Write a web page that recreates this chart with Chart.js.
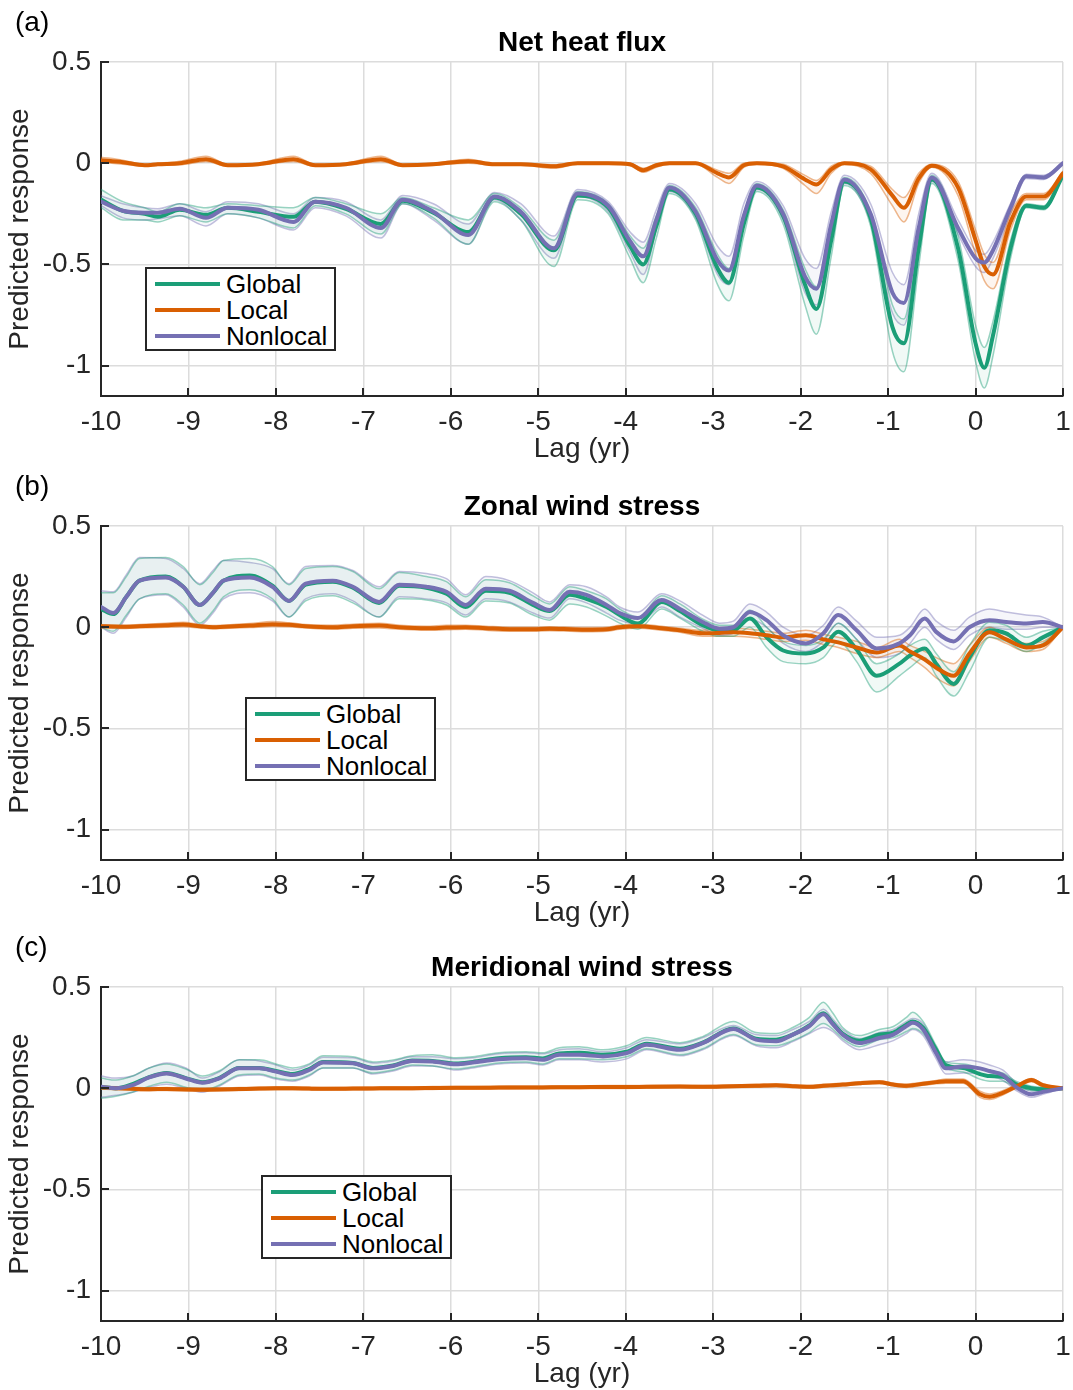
<!DOCTYPE html>
<html>
<head>
<meta charset="utf-8">
<script src="https://cdn.jsdelivr.net/npm/chart.js@4.4.1/dist/chart.umd.min.js"></script>
<style>
  body { margin: 0; background: #fff; width: 1073px; height: 1390px; position: relative; overflow: hidden;
         font-family: "Liberation Sans", Arial, Helvetica, sans-serif; color: #262626; }
  .panel { position: absolute; left: 0; width: 1073px; height: 463px; }
  .panel canvas { position: absolute; left: 0; top: 0; }
  .tag { position: absolute; left: 15px; top: 8px; font-size: 28px; line-height: 28px; color: #000; }
  .title { position: absolute; left: 101px; width: 962px; top: 28px; text-align: center;
           font-weight: bold; font-size: 28px; line-height: 28px; color: #000; }
  .legend { position: absolute; box-sizing: border-box; width: 191px; height: 84px; border: 2px solid #262626;
            background: #fff; padding-top: 2px; }
  .legend .row { height: 26px; display: flex; align-items: center; font-size: 26px; line-height: 26px; color: #000; }
  .legend .swatch { display: inline-block; width: 65px; height: 4px; margin-left: 8px; margin-right: 6px; }
</style>
</head>
<body>

<div class="panel" id="panelA" style="top:0px"><canvas id="chartA" width="1073" height="463"></canvas></div>
<div class="panel" id="panelB" style="top:464px"><canvas id="chartB" width="1073" height="463"></canvas></div>
<div class="panel" id="panelC" style="top:925px"><canvas id="chartC" width="1073" height="463"></canvas></div>

<script>
// Series and ticks
const seriesNames = ['Global', 'Local', 'Nonlocal'];
const seriesColors = ['#1b9e77', '#d95f02', '#7570b3'];
const xTicks = [-10, -9, -8, -7, -6, -5, -4, -3, -2, -1, 0, 1];
const xTickLabels = ['-10', '-9', '-8', '-7', '-6', '-5', '-4', '-3', '-2', '-1', '0', '1'];
const yTicks = [-1, -0.5, 0, 0.5];
const yTickLabels = ['-1', '-0.5', '0', '0.5'];

// (a) Net heat flux
const aLag = [-10, -9.75, -9.5, -9.35, -9.1, -8.8, -8.55, -8.2, -7.8, -7.55,
  -7.2, -6.8, -6.55, -6.2, -5.8, -5.5, -5.2, -4.82, -4.55, -4.2,
  -3.95, -3.8, -3.65, -3.5, -3.2, -2.95, -2.82, -2.65, -2.5, -2.2,
  -1.95, -1.82, -1.65, -1.5, -1.2, -0.95, -0.82, -0.65, -0.5, -0.2,
  0, 0.1, 0.2, 0.4, 0.58, 0.78, 1];
const aGlobal = [-0.18, -0.235, -0.25, -0.265, -0.23, -0.255, -0.22, -0.24, -0.265, -0.19,
  -0.225, -0.30, -0.185, -0.245, -0.34, -0.17, -0.25, -0.43, -0.16, -0.22,
  -0.41, -0.50, -0.31, -0.13, -0.25, -0.52, -0.59, -0.30, -0.12, -0.26,
  -0.60, -0.72, -0.38, -0.09, -0.27, -0.81, -0.89, -0.42, -0.08, -0.42,
  -0.89, -1.01, -0.85, -0.42, -0.21, -0.22, -0.06];
const aGlobalHi = [-0.13, -0.19, -0.22, -0.24, -0.2, -0.22, -0.2, -0.21, -0.22, -0.17,
  -0.2, -0.25, -0.17, -0.22, -0.28, -0.15, -0.22, -0.38, -0.14, -0.2,
  -0.36, -0.42, -0.26, -0.11, -0.22, -0.45, -0.52, -0.25, -0.1, -0.23,
  -0.52, -0.61, -0.3, -0.07, -0.24, -0.7, -0.77, -0.35, -0.06, -0.36,
  -0.8, -0.91, -0.78, -0.38, -0.2, -0.21, -0.05];
const aGlobalLo = [-0.22, -0.28, -0.28, -0.29, -0.26, -0.29, -0.25, -0.27, -0.32, -0.21,
  -0.25, -0.35, -0.2, -0.27, -0.4, -0.19, -0.28, -0.51, -0.18, -0.25,
  -0.47, -0.59, -0.37, -0.15, -0.28, -0.6, -0.68, -0.36, -0.14, -0.3,
  -0.7, -0.845, -0.46, -0.11, -0.31, -0.93, -1.03, -0.51, -0.1, -0.48,
  -0.98, -1.11, -0.95, -0.47, -0.22, -0.23, -0.065];
const aLocal = [0.015, 0.005, -0.01, -0.005, 0.0, 0.02, -0.01, -0.005, 0.02, -0.01,
  -0.005, 0.02, -0.01, -0.005, 0.01, -0.005, -0.005, -0.015, 0.0, 0.0,
  -0.005, -0.035, -0.01, 0.0, 0.0, -0.05, -0.07, -0.01, 0.0, -0.016,
  -0.08, -0.105, -0.03, 0.0, -0.03, -0.16, -0.22, -0.075, -0.013, -0.12,
  -0.38, -0.51, -0.55, -0.29, -0.165, -0.165, -0.05];
const aLocalHi = [0.03, 0.015, -0.005, 0.0, 0.01, 0.035, -0.005, 0.0, 0.035, -0.005,
  0.0, 0.035, -0.005, 0.0, 0.02, 0.0, 0.0, -0.008, 0.005, 0.005,
  0.0, -0.025, -0.003, 0.005, 0.005, -0.035, -0.05, 0.0, 0.005, -0.005,
  -0.06, -0.085, -0.015, 0.005, -0.015, -0.13, -0.17, -0.05, -0.005, -0.09,
  -0.33, -0.45, -0.49, -0.25, -0.15, -0.15, -0.04];
const aLocalLo = [0.005, -0.005, -0.015, -0.01, -0.008, 0.008, -0.015, -0.01, 0.008, -0.015,
  -0.01, 0.008, -0.015, -0.01, 0.0, -0.01, -0.01, -0.025, -0.005, -0.005,
  -0.012, -0.045, -0.02, -0.005, -0.005, -0.07, -0.1, -0.02, -0.005, -0.025,
  -0.11, -0.15, -0.05, -0.005, -0.05, -0.21, -0.29, -0.1, -0.02, -0.16,
  -0.45, -0.58, -0.62, -0.33, -0.18, -0.18, -0.06];
const aNonlocal = [-0.19, -0.235, -0.245, -0.245, -0.225, -0.27, -0.22, -0.23, -0.29, -0.19,
  -0.22, -0.32, -0.18, -0.24, -0.355, -0.165, -0.24, -0.42, -0.15, -0.21,
  -0.385, -0.46, -0.28, -0.12, -0.24, -0.48, -0.53, -0.26, -0.11, -0.25,
  -0.56, -0.62, -0.30, -0.08, -0.25, -0.64, -0.69, -0.32, -0.07, -0.32,
  -0.47, -0.49, -0.43, -0.22, -0.065, -0.07, 0.0];
const aNonlocalHi = [-0.16, -0.2, -0.22, -0.225, -0.2, -0.24, -0.19, -0.2, -0.25, -0.17,
  -0.19, -0.28, -0.16, -0.2, -0.3, -0.145, -0.2, -0.36, -0.13, -0.19,
  -0.34, -0.39, -0.23, -0.1, -0.2, -0.41, -0.46, -0.2, -0.09, -0.21,
  -0.47, -0.52, -0.24, -0.06, -0.2, -0.54, -0.6, -0.25, -0.05, -0.28,
  -0.43, -0.45, -0.39, -0.2, -0.055, -0.06, 0.0];
const aNonlocalLo = [-0.21, -0.27, -0.28, -0.275, -0.26, -0.31, -0.25, -0.27, -0.33, -0.22,
  -0.26, -0.37, -0.2, -0.28, -0.4, -0.18, -0.28, -0.47, -0.165, -0.24,
  -0.44, -0.55, -0.33, -0.14, -0.27, -0.55, -0.6, -0.31, -0.13, -0.28,
  -0.64, -0.7, -0.37, -0.1, -0.29, -0.74, -0.8, -0.4, -0.09, -0.35,
  -0.51, -0.54, -0.47, -0.25, -0.075, -0.08, 0.0];

// (b) Zonal wind stress
const bLag = [-10, -9.86, -9.71, -9.56, -9.26, -9.06, -8.87, -8.72, -8.6, -8.3,
  -8.04, -7.85, -7.66, -7.35, -7.12, -6.82, -6.59, -6.28, -6.05, -5.83,
  -5.6, -5.33, -5.06, -4.87, -4.64, -4.45, -4.22, -4.07, -3.86, -3.59,
  -3.38, -3.12, -2.93, -2.77, -2.58, -2.39, -2.2, -1.94, -1.74, -1.57,
  -1.36, -1.13, -0.87, -0.75, -0.58, -0.45, -0.25, -0.07, 0.16, 0.35,
  0.58, 0.77, 1];
const bGlobal = [0.09, 0.065, 0.15, 0.23, 0.25, 0.20, 0.11, 0.17, 0.23, 0.255,
  0.205, 0.13, 0.21, 0.225, 0.195, 0.12, 0.205, 0.195, 0.165, 0.10,
  0.18, 0.17, 0.11, 0.08, 0.16, 0.14, 0.10, 0.06, 0.018, 0.125,
  0.08, 0.01, -0.015, -0.015, 0.043, -0.05, -0.115, -0.13, -0.10, -0.023,
  -0.11, -0.24, -0.18, -0.14, -0.105, -0.18, -0.28, -0.15, -0.015, -0.03,
  -0.09, -0.05, 0.0];
const bGlobalHi = [0.17, 0.17, 0.25, 0.34, 0.345, 0.3, 0.21, 0.27, 0.33, 0.34,
  0.3, 0.21, 0.29, 0.3, 0.275, 0.19, 0.27, 0.25, 0.225, 0.15,
  0.235, 0.22, 0.155, 0.115, 0.2, 0.18, 0.14, 0.09, 0.05, 0.155,
  0.115, 0.04, 0.01, 0.01, 0.085, 0.0, -0.07, -0.09, -0.06, 0.02,
  -0.06, -0.18, -0.13, -0.09, -0.06, -0.13, -0.22, -0.09, 0.025, 0.01,
  -0.05, -0.02, 0.0];
const bGlobalLo = [0.0, -0.02, 0.06, 0.14, 0.165, 0.11, 0.02, 0.08, 0.15, 0.185,
  0.14, 0.05, 0.13, 0.155, 0.12, 0.05, 0.14, 0.135, 0.11, 0.05,
  0.13, 0.12, 0.06, 0.035, 0.115, 0.1, 0.055, 0.02, -0.01, 0.09,
  0.045, -0.02, -0.045, -0.045, 0.0, -0.1, -0.17, -0.18, -0.15, -0.07,
  -0.17, -0.32, -0.24, -0.2, -0.15, -0.24, -0.34, -0.22, -0.05, -0.07,
  -0.12, -0.08, 0.0];
const bLocal = [0.005, 0.003, 0.002, 0.005, 0.01, 0.013, 0.005, 0.0, 0.002, 0.008,
  0.015, 0.012, 0.005, 0.0, 0.005, 0.008, 0.0, -0.005, -0.002, 0.0,
  -0.005, -0.01, -0.01, -0.008, -0.01, -0.012, -0.01, 0.0, 0.005, -0.005,
  -0.015, -0.03, -0.028, -0.025, -0.03, -0.04, -0.05, -0.04, -0.06, -0.075,
  -0.1, -0.125, -0.09, -0.12, -0.16, -0.2, -0.24, -0.13, -0.025, -0.06,
  -0.1, -0.09, 0.0];
const bLocalHi = [0.012, 0.01, 0.01, 0.013, 0.02, 0.025, 0.013, 0.008, 0.01, 0.018,
  0.028, 0.022, 0.013, 0.01, 0.015, 0.02, 0.01, 0.005, 0.01, 0.01,
  0.005, 0.0, 0.0, 0.002, 0.0, -0.002, 0.0, 0.01, 0.015, 0.005,
  -0.005, -0.015, -0.01, -0.005, -0.01, -0.02, -0.03, -0.015, -0.035, -0.05,
  -0.07, -0.1, -0.06, -0.09, -0.12, -0.15, -0.18, -0.09, 0.0, -0.04,
  -0.08, -0.07, 0.0];
const bLocalLo = [-0.003, -0.005, -0.006, -0.003, 0.0, 0.002, -0.004, -0.008, -0.006, -0.002,
  0.003, 0.002, -0.004, -0.01, -0.005, -0.004, -0.01, -0.015, -0.013, -0.01,
  -0.015, -0.02, -0.02, -0.018, -0.02, -0.022, -0.02, -0.01, -0.005, -0.015,
  -0.025, -0.045, -0.045, -0.045, -0.05, -0.06, -0.07, -0.065, -0.085, -0.1,
  -0.13, -0.15, -0.12, -0.15, -0.2, -0.25, -0.29, -0.17, -0.05, -0.08,
  -0.12, -0.11, 0.0];
const bNonlocal = [0.10, 0.07, 0.15, 0.23, 0.245, 0.20, 0.11, 0.17, 0.23, 0.245,
  0.20, 0.13, 0.215, 0.23, 0.20, 0.125, 0.21, 0.20, 0.175, 0.11,
  0.19, 0.18, 0.12, 0.085, 0.175, 0.16, 0.11, 0.07, 0.045, 0.135,
  0.09, 0.026, -0.007, 0.0, 0.075, 0.035, -0.04, -0.08, -0.03, 0.06,
  -0.015, -0.105, -0.08, -0.04, 0.043, -0.023, -0.07, 0.0, 0.035, 0.026,
  0.018, 0.026, 0.0];
const bNonlocalHi = [0.18, 0.175, 0.26, 0.345, 0.34, 0.29, 0.215, 0.28, 0.33, 0.32,
  0.29, 0.215, 0.3, 0.305, 0.28, 0.2, 0.275, 0.265, 0.24, 0.16,
  0.25, 0.23, 0.17, 0.125, 0.21, 0.2, 0.15, 0.1, 0.075, 0.165,
  0.13, 0.06, 0.02, 0.03, 0.115, 0.075, 0.0, -0.04, 0.01, 0.1,
  0.03, -0.05, -0.04, 0.0, 0.09, 0.03, -0.015, 0.05, 0.09, 0.075,
  0.06, 0.05, 0.0];
const bNonlocalLo = [0.0, -0.03, 0.05, 0.14, 0.16, 0.1, 0.01, 0.07, 0.14, 0.17,
  0.13, 0.05, 0.14, 0.165, 0.13, 0.05, 0.15, 0.14, 0.12, 0.06,
  0.14, 0.125, 0.07, 0.045, 0.14, 0.12, 0.07, 0.035, 0.015, 0.1,
  0.05, -0.005, -0.04, -0.03, 0.04, 0.0, -0.08, -0.12, -0.07, 0.02,
  -0.06, -0.15, -0.13, -0.08, 0.0, -0.06, -0.11, -0.04, 0.0, -0.01,
  -0.01, 0.0, 0.0];

// (c) Meridional wind stress
const cLag = [-10, -9.83, -9.64, -9.45, -9.25, -9.03, -8.84, -8.65, -8.42, -8.19,
  -8.0, -7.81, -7.62, -7.46, -7.12, -6.89, -6.66, -6.44, -6.21, -5.94,
  -5.75, -5.45, -5.14, -4.95, -4.76, -4.53, -4.26, -3.99, -3.76, -3.38,
  -3.12, -2.77, -2.51, -2.28, -2.09, -1.9, -1.74, -1.63, -1.52, -1.33,
  -1.1, -0.94, -0.79, -0.72, -0.6, -0.45, -0.34, -0.14, 0.05, 0.16,
  0.31, 0.46, 0.64, 0.77, 1];
const cGlobal = [0.005, 0.0, 0.02, 0.055, 0.075, 0.05, 0.03, 0.05, 0.1, 0.1,
  0.085, 0.07, 0.095, 0.13, 0.125, 0.1, 0.112, 0.137, 0.135, 0.122,
  0.13, 0.148, 0.153, 0.147, 0.172, 0.175, 0.165, 0.18, 0.22, 0.195,
  0.225, 0.295, 0.245, 0.24, 0.265, 0.31, 0.37, 0.32, 0.27, 0.235,
  0.265, 0.275, 0.315, 0.33, 0.3, 0.19, 0.115, 0.1, 0.07, 0.06,
  0.057, 0.02, 0.0, -0.005, 0.0];
const cGlobalHi = [0.05, 0.04, 0.06, 0.1, 0.12, 0.095, 0.06, 0.085, 0.14, 0.14,
  0.12, 0.1, 0.12, 0.16, 0.155, 0.13, 0.14, 0.16, 0.165, 0.15,
  0.155, 0.175, 0.18, 0.175, 0.2, 0.205, 0.19, 0.21, 0.25, 0.225,
  0.255, 0.33, 0.275, 0.27, 0.3, 0.35, 0.425, 0.37, 0.3, 0.26,
  0.29, 0.305, 0.35, 0.375, 0.33, 0.21, 0.13, 0.12, 0.1, 0.085,
  0.075, 0.035, 0.01, 0.005, 0.0];
const cGlobalLo = [-0.05, -0.04, -0.02, 0.01, 0.03, 0.005, -0.01, 0.015, 0.065, 0.07,
  0.05, 0.04, 0.065, 0.1, 0.1, 0.075, 0.09, 0.115, 0.11, 0.095,
  0.105, 0.125, 0.13, 0.12, 0.145, 0.145, 0.14, 0.155, 0.195, 0.165,
  0.195, 0.265, 0.215, 0.21, 0.235, 0.275, 0.32, 0.29, 0.245, 0.205,
  0.24, 0.25, 0.28, 0.295, 0.27, 0.17, 0.1, 0.08, 0.045, 0.035,
  0.035, 0.005, -0.01, -0.015, 0.0];
const cLocal = [0.003, 0.0, -0.003, -0.005, -0.004, -0.006, -0.007, -0.006, -0.004, -0.002,
  0.0, 0.0, -0.002, -0.003, -0.002, -0.001, 0.0, 0.0, 0.001, 0.002,
  0.002, 0.003, 0.004, 0.004, 0.005, 0.005, 0.006, 0.006, 0.007, 0.008,
  0.007, 0.01, 0.012, 0.015, 0.01, 0.007, 0.012, 0.015, 0.018, 0.025,
  0.03, 0.018, 0.012, 0.015, 0.022, 0.03, 0.035, 0.035, -0.03, -0.042,
  -0.023, 0.007, 0.04, 0.015, 0.0];
const cLocalHi = [0.01, 0.007, 0.004, 0.002, 0.003, 0.001, 0.0, 0.001, 0.003, 0.005,
  0.007, 0.007, 0.005, 0.004, 0.005, 0.006, 0.007, 0.007, 0.008, 0.009,
  0.009, 0.01, 0.011, 0.011, 0.012, 0.012, 0.013, 0.013, 0.014, 0.015,
  0.014, 0.017, 0.019, 0.022, 0.017, 0.014, 0.019, 0.022, 0.025, 0.032,
  0.037, 0.025, 0.02, 0.023, 0.03, 0.038, 0.045, 0.045, -0.015, -0.028,
  -0.012, 0.015, 0.048, 0.022, 0.0];
const cLocalLo = [-0.004, -0.007, -0.01, -0.012, -0.011, -0.013, -0.014, -0.013, -0.011, -0.009,
  -0.007, -0.007, -0.009, -0.01, -0.009, -0.008, -0.007, -0.007, -0.006, -0.005,
  -0.005, -0.004, -0.003, -0.003, -0.002, -0.002, -0.001, -0.001, 0.0, 0.001,
  0.0, 0.003, 0.005, 0.008, 0.003, 0.0, 0.005, 0.008, 0.011, 0.018,
  0.023, 0.011, 0.004, 0.007, 0.014, 0.022, 0.025, 0.025, -0.045, -0.056,
  -0.034, -0.001, 0.032, 0.008, 0.0];
const cNonlocal = [0.007, 0.0, 0.015, 0.053, 0.073, 0.048, 0.027, 0.048, 0.098, 0.098,
  0.082, 0.065, 0.09, 0.127, 0.123, 0.098, 0.11, 0.135, 0.132, 0.118,
  0.127, 0.143, 0.148, 0.14, 0.165, 0.165, 0.157, 0.173, 0.215, 0.19,
  0.223, 0.293, 0.24, 0.232, 0.265, 0.307, 0.365, 0.315, 0.265, 0.223,
  0.248, 0.265, 0.307, 0.323, 0.29, 0.173, 0.098, 0.107, 0.098, 0.085,
  0.065, 0.007, -0.03, -0.018, 0.0];
const cNonlocalHi = [0.06, 0.05, 0.06, 0.1, 0.125, 0.1, 0.05, 0.08, 0.14, 0.135,
  0.115, 0.09, 0.115, 0.153, 0.15, 0.125, 0.135, 0.155, 0.155, 0.145,
  0.15, 0.17, 0.175, 0.17, 0.19, 0.195, 0.18, 0.2, 0.24, 0.22,
  0.25, 0.31, 0.265, 0.26, 0.29, 0.33, 0.39, 0.34, 0.29, 0.245,
  0.275, 0.29, 0.33, 0.345, 0.32, 0.2, 0.13, 0.14, 0.13, 0.115,
  0.09, 0.03, -0.015, -0.01, 0.0];
const cNonlocalLo = [-0.045, -0.035, -0.02, 0.005, 0.02, 0.0, -0.02, 0.01, 0.06, 0.065,
  0.045, 0.035, 0.06, 0.1, 0.1, 0.07, 0.085, 0.11, 0.11, 0.09,
  0.1, 0.12, 0.125, 0.115, 0.14, 0.14, 0.13, 0.145, 0.19, 0.16,
  0.19, 0.26, 0.21, 0.2, 0.23, 0.27, 0.3, 0.28, 0.235, 0.19,
  0.215, 0.235, 0.27, 0.29, 0.26, 0.145, 0.07, 0.075, 0.07, 0.06,
  0.04, -0.01, -0.045, -0.03, 0.0];

const FONT = '"Liberation Sans", Arial, Helvetica, sans-serif';
const INK = '#262626';

// MATLAB-style inward tick marks
const innerTicks = {
    id: 'innerTicks',
    afterDraw(chart) {
        const { ctx, chartArea: a, scales: { x, y } } = chart;
        ctx.save();
        ctx.strokeStyle = INK;
        ctx.lineWidth = 2;
        ctx.beginPath();
        xTicks.forEach(v => {
            const px = Math.round(x.getPixelForValue(v));
            ctx.moveTo(px, a.bottom);
            ctx.lineTo(px, a.bottom - 8);
        });
        yTicks.forEach(v => {
            const py = Math.round(y.getPixelForValue(v));
            ctx.moveTo(a.left, py);
            ctx.lineTo(a.left + 8, py);
        });
        ctx.stroke();
        ctx.restore();
    }
};

function pts(lag, vals) {
    return lag.map((x, i) => ({ x, y: vals[i] }));
}

function buildChart(canvasId, lag, series) {
    const datasets = [];
    // bands first (lo, hi filled to lo)
    series.forEach((s, i) => {
        const c = seriesColors[i];
        datasets.push({
            data: pts(lag, s.lo), borderColor: c + '70', borderWidth: 1.5,
            fill: false, order: 10 + i
        });
        datasets.push({
            data: pts(lag, s.hi), borderColor: c + '70', borderWidth: 1.5,
            fill: '-1', backgroundColor: c + '10', order: 10 + i
        });
    });
    // mean lines, Nonlocal on top
    series.forEach((s, i) => {
        datasets.push({
            label: seriesNames[i], data: pts(lag, s.mean), borderColor: seriesColors[i],
            borderWidth: 4, fill: false, order: 3 - i
        });
    });

    return new Chart(document.getElementById(canvasId), {
        type: 'line',
        data: { datasets },
        options: {
            responsive: false,
            animation: false,
            devicePixelRatio: 1,
            layout: { padding: { top: 62, right: 10, left: 0, bottom: 0 } },
            elements: {
                point: { radius: 0, hoverRadius: 0 },
                line: { cubicInterpolationMode: 'monotone', borderCapStyle: 'round', borderJoinStyle: 'round' }
            },
            plugins: { legend: { display: false }, tooltip: { enabled: false } },
            scales: {
                x: {
                    type: 'linear', min: -10, max: 1,
                    afterBuildTicks: s => { s.ticks = xTicks.map(v => ({ value: v })); },
                    afterFit: s => { s.height = 67; s.paddingLeft = 0; s.paddingRight = 0; },
                    grid: { color: '#dcdcdc', lineWidth: 1.5, drawTicks: false },
                    border: { color: INK, width: 2 },
                    ticks: {
                        color: INK, font: { family: FONT, size: 28 }, padding: 9,
                        maxRotation: 0, autoSkip: false,
                        callback: v => xTickLabels[xTicks.indexOf(v)]
                    },
                    title: {
                        display: true, text: 'Lag (yr)', color: INK,
                        font: { family: FONT, size: 28, lineHeight: 1 }, padding: { top: 0, bottom: 0 }
                    }
                },
                y: {
                    type: 'linear', min: -1.15, max: 0.5,
                    afterBuildTicks: s => { s.ticks = yTicks.map(v => ({ value: v })); },
                    afterFit: s => { s.width = 101; },
                    grid: { color: '#dcdcdc', lineWidth: 1.5, drawTicks: false },
                    border: { color: INK, width: 2 },
                    ticks: {
                        color: INK, font: { family: FONT, size: 28 }, padding: 10,
                        callback: v => yTickLabels[yTicks.indexOf(v)]
                    },
                    title: {
                        display: true, text: 'Predicted response', color: INK,
                        font: { family: FONT, size: 28, lineHeight: 1 }, padding: { top: 6, bottom: 0 }
                    }
                }
            }
        },
        plugins: [innerTicks]
    });
}

function addLabels(panelId, tag, title, legendLeft, legendTop) {
    const panel = document.getElementById(panelId);
    const t = document.createElement('div');
    t.className = 'tag'; t.textContent = tag; panel.appendChild(t);
    const h = document.createElement('div');
    h.className = 'title'; h.textContent = title; panel.appendChild(h);
    const box = document.createElement('div');
    box.className = 'legend';
    box.style.left = legendLeft + 'px';
    box.style.top = legendTop + 'px';
    seriesNames.forEach((name, i) => {
        const row = document.createElement('div');
        row.className = 'row';
        row.innerHTML = `<span class="swatch" style="background:${seriesColors[i]}"></span><span>${name}</span>`;
        box.appendChild(row);
    });
    panel.appendChild(box);
}

buildChart('chartA', aLag, [
    { mean: aGlobal, lo: aGlobalLo, hi: aGlobalHi },
    { mean: aLocal, lo: aLocalLo, hi: aLocalHi },
    { mean: aNonlocal, lo: aNonlocalLo, hi: aNonlocalHi }
]);
buildChart('chartB', bLag, [
    { mean: bGlobal, lo: bGlobalLo, hi: bGlobalHi },
    { mean: bLocal, lo: bLocalLo, hi: bLocalHi },
    { mean: bNonlocal, lo: bNonlocalLo, hi: bNonlocalHi }
]);
buildChart('chartC', cLag, [
    { mean: cGlobal, lo: cGlobalLo, hi: cGlobalHi },
    { mean: cLocal, lo: cLocalLo, hi: cLocalHi },
    { mean: cNonlocal, lo: cNonlocalLo, hi: cNonlocalHi }
]);

addLabels('panelA', '(a)', 'Net heat flux', 145, 267);
addLabels('panelB', '(b)', 'Zonal wind stress', 245, 233);
addLabels('panelC', '(c)', 'Meridional wind stress', 261, 250);
</script>
</body>
</html>
